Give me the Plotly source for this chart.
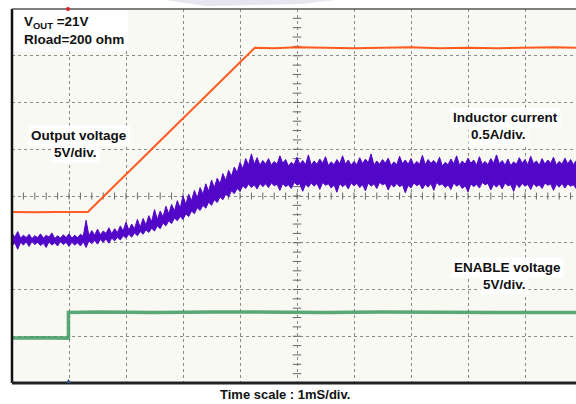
import plotly.graph_objects as go

# ---------------- data (time in ms, 1 ms/div; levels in screen divisions 0..8) ----------------
SAMPLE_MS = 0.05  # envelope sample interval

# inductor current noise envelope, upper edge (divisions), one row per ms
il_upper = [
    3.20, 3.12, 3.24, 3.10, 3.16, 3.11, 3.18, 3.09, 3.15, 3.11, 3.19, 3.10, 3.16, 3.12, 3.21, 3.09, 3.15, 3.10, 3.17, 3.11,
    3.19, 3.10, 3.16, 3.11, 3.18, 3.14, 3.48, 3.15, 3.26, 3.16, 3.29, 3.17, 3.25, 3.20, 3.32, 3.19, 3.30, 3.22, 3.36, 3.25,
    3.44, 3.27, 3.40, 3.30, 3.50, 3.33, 3.52, 3.38, 3.58, 3.45, 3.71, 3.50, 3.68, 3.55, 3.78, 3.62, 3.82, 3.68, 3.90, 3.74,
    4.00, 3.82, 4.04, 3.90, 4.12, 3.96, 4.18, 4.04, 4.26, 4.10, 4.34, 4.18, 4.38, 4.26, 4.48, 4.33, 4.55, 4.42, 4.62, 4.50,
    4.72, 4.58, 4.80, 4.66, 4.90, 4.68, 4.82, 4.66, 4.76, 4.68, 4.80, 4.66, 4.74, 4.68, 4.86, 4.70, 4.78, 4.64, 4.72, 4.67,
    4.83, 4.68, 4.76, 4.67, 4.88, 4.66, 4.75, 4.68, 4.79, 4.70, 4.84, 4.65, 4.73, 4.67, 4.78, 4.69, 4.86, 4.68, 4.77, 4.66,
    4.74, 4.67, 4.82, 4.69, 4.79, 4.71, 4.90, 4.66, 4.75, 4.68, 4.78, 4.70, 4.81, 4.65, 4.73, 4.67, 4.85, 4.69, 4.77, 4.68,
    4.80, 4.66, 4.74, 4.68, 4.87, 4.67, 4.78, 4.70, 4.76, 4.68, 4.83, 4.64, 4.72, 4.67, 4.79, 4.69, 4.86, 4.66, 4.75, 4.68,
    4.81, 4.70, 4.77, 4.66, 4.84, 4.68, 4.74, 4.67, 4.80, 4.70, 4.88, 4.69, 4.76, 4.66, 4.79, 4.65, 4.73, 4.68, 4.82, 4.70,
    4.78, 4.67, 4.85, 4.69, 4.75, 4.66, 4.80, 4.68, 4.77, 4.70, 4.83, 4.66, 4.74, 4.68, 4.81, 4.69, 4.78, 4.67, 4.76,
]
# lower edge
il_lower = [
    2.93, 3.00, 2.86, 3.01, 2.95, 3.02, 2.92, 3.03, 2.96, 3.01, 2.94, 2.99, 2.90, 3.02, 2.95, 3.00, 2.93, 3.03, 2.96, 3.01,
    2.92, 3.01, 2.95, 3.00, 2.93, 3.02, 2.90, 3.04, 2.98, 3.05, 2.97, 3.07, 3.01, 3.08, 2.99, 3.10, 3.04, 3.12, 3.06, 3.15,
    3.10, 3.18, 3.12, 3.21, 3.15, 3.24, 3.18, 3.28, 3.22, 3.31, 3.25, 3.36, 3.30, 3.42, 3.36, 3.47, 3.41, 3.53, 3.47, 3.56,
    3.50, 3.62, 3.56, 3.68, 3.62, 3.75, 3.69, 3.80, 3.74, 3.87, 3.80, 3.92, 3.86, 3.98, 3.92, 4.04, 3.98, 4.11, 4.05, 4.16,
    4.10, 4.22, 4.16, 4.26, 4.18, 4.24, 4.15, 4.27, 4.20, 4.26, 4.18, 4.28, 4.22, 4.25, 4.12, 4.27, 4.20, 4.24, 4.16, 4.29,
    4.24, 4.26, 4.10, 4.25, 4.19, 4.28, 4.21, 4.27, 4.14, 4.29, 4.23, 4.26, 4.17, 4.24, 4.08, 4.27, 4.20, 4.25, 4.15, 4.28,
    4.22, 4.27, 4.18, 4.24, 4.11, 4.28, 4.21, 4.26, 4.16, 4.29, 4.24, 4.27, 4.13, 4.25, 4.19, 4.27, 4.20, 4.24, 4.07, 4.23,
    4.17, 4.28, 4.22, 4.26, 4.15, 4.25, 4.19, 4.27, 4.12, 4.29, 4.23, 4.26, 4.18, 4.24, 4.14, 4.28, 4.21, 4.25, 4.16, 4.22,
    4.09, 4.26, 4.20, 4.25, 4.17, 4.29, 4.24, 4.27, 4.13, 4.25, 4.19, 4.26, 4.15, 4.28, 4.22, 4.24, 4.10, 4.26, 4.18, 4.27,
    4.21, 4.25, 4.14, 4.27, 4.20, 4.24, 4.16, 4.28, 4.23, 4.26, 4.12, 4.25, 4.19, 4.27, 4.17, 4.26, 4.21, 4.24, 4.15,
]

# output voltage trace
vout_t = [0.0, 0.4, 0.8, 1.2, 1.33, 4.26, 4.6, 5.0, 5.5, 6.0, 6.5, 7.0, 7.5, 8.0, 8.5, 9.0, 9.5, 9.9]
vout_div = [3.66, 3.65, 3.66, 3.66, 3.66, 7.17, 7.16, 7.18, 7.17, 7.16, 7.17, 7.18, 7.16, 7.17, 7.16, 7.17, 7.18, 7.17]

# enable voltage trace
en_t = [0.0, 0.5, 0.99, 0.99, 1.5, 2.5, 3.5, 4.5, 5.5, 6.5, 7.5, 8.5, 9.9]
en_div = [0.96, 0.97, 0.96, 1.51, 1.52, 1.51, 1.52, 1.51, 1.51, 1.52, 1.51, 1.51, 1.51]

# sample clock of the envelope
time_ms = [round(i * SAMPLE_MS, 2) for i in range(len(il_upper))]

# ---------------- layout geometry ----------------
W, H = 576, 404
L_PX, R_PX, T_PX, B_PX = 12, 576, 9, 383
X_DIV_PX = 57.0
X_MAX = (R_PX - L_PX) / X_DIV_PX
N_YDIV = 8

def px_x(px):
    return (px - L_PX) / (R_PX - L_PX)

def px_y(py):
    return (B_PX - py) / (B_PX - T_PX)

FONT = "Liberation Sans, Arial, sans-serif"
BLUE = "#5206c8"
ORANGE = "#ff5a1f"
GREEN = "#3f9a62"

fig = go.Figure()

# centre-cross minor ticks
cx_ticks = [k * 0.2 for k in range(1, int(X_MAX / 0.2) + 1)]
cy_ticks = [k * 0.2 for k in range(1, N_YDIV * 5)]
fig.add_trace(go.Scatter(x=cx_ticks, y=[4] * len(cx_ticks), mode="markers",
                         marker=dict(symbol="line-ns", size=5, line=dict(width=1, color="#666")),
                         hoverinfo="skip", showlegend=False))
fig.add_trace(go.Scatter(x=[5] * len(cy_ticks), y=cy_ticks, mode="markers",
                         marker=dict(symbol="line-ew", size=6, line=dict(width=1, color="#666")),
                         hoverinfo="skip", showlegend=False))

# inductor current band
fig.add_trace(go.Scatter(x=time_ms, y=il_lower, mode="lines",
                         line=dict(color=BLUE, width=1), showlegend=False))
fig.add_trace(go.Scatter(x=time_ms, y=il_upper, mode="lines", fill="tonexty",
                         fillcolor=BLUE, line=dict(color=BLUE, width=1), showlegend=False))

# output voltage
fig.add_trace(go.Scatter(x=vout_t, y=vout_div, mode="lines",
                         line=dict(color=ORANGE, width=2), showlegend=False))

# enable voltage
fig.add_trace(go.Scatter(x=en_t, y=en_div, mode="lines", opacity=0.85,
                         line=dict(color=GREEN, width=3.5), showlegend=False))

shapes = [
    # white box behind Vout text
    dict(type="rect", xref="paper", yref="paper", x0=px_x(12), x1=px_x(128),
         y0=px_y(51), y1=px_y(9), fillcolor="white", line=dict(width=0), layer="above"),
    # borders
    dict(type="line", xref="paper", yref="paper", x0=0, x1=0, y0=0, y1=1,
         line=dict(color="#111", width=2.5), layer="above"),
    dict(type="line", xref="paper", yref="paper", x0=0, x1=1.0, y0=1, y1=1,
         line=dict(color="#555", width=1.5), layer="above"),
    dict(type="line", xref="paper", yref="paper", x0=0, x1=1.0, y0=0, y1=0,
         line=dict(color="#222", width=3), layer="above"),
    # faint glare wedge at top
    dict(type="path", xref="paper", yref="paper",
         path=f"M {px_x(165)} {px_y(0)} L {px_x(335)} {px_y(0)} L {px_x(300)} {px_y(4)} L {px_x(205)} {px_y(6)} Z",
         fillcolor="rgba(215,212,228,0.6)", line=dict(width=0), layer="above"),
    # trigger markers
    dict(type="circle", xref="paper", yref="paper", x0=px_x(66), x1=px_x(70),
         y0=px_y(11), y1=px_y(7), fillcolor="#e0202a", line=dict(width=0), layer="above"),
    dict(type="path", xref="paper", yref="paper",
         path=f"M {px_x(66)} {px_y(383)} L {px_x(71)} {px_y(383)} L {px_x(68.5)} {px_y(379)} Z",
         fillcolor="#2a4a8a", line=dict(width=0), layer="above"),
]

def ann(text, px, py, xanchor="center", bg=None, size=13.5):
    d = dict(text=f"<b>{text}</b>", xref="paper", yref="paper", x=px_x(px), y=px_y(py),
             xanchor=xanchor, yanchor="middle", showarrow=False,
             font=dict(family=FONT, size=size, color="#111"))
    if bg:
        d.update(bgcolor=bg, borderpad=2)
    return d

annotations = [
    ann("V<sub>OUT</sub> =21V", 22, 22, xanchor="left"),
    ann("Rload=200 ohm", 22, 39, xanchor="left"),
    ann("Output voltage", 79, 135, bg="white"),
    ann("5V/div.", 75, 152, bg="white"),
    ann("Inductor current", 505, 117, bg="white"),
    ann("0.5A/div.", 498, 134, bg="white"),
    ann("ENABLE voltage", 507, 267, bg="white"),
    ann("5V/div.", 504, 284, bg="white"),
    ann("Time scale : 1mS/div.", 285, 395, size=13),
]

fig.update_layout(
    width=W, height=H,
    margin=dict(l=L_PX, r=W - R_PX, t=T_PX, b=H - B_PX, pad=0),
    paper_bgcolor="white", plot_bgcolor="#f9f9f4",
    shapes=shapes, annotations=annotations, showlegend=False,
    xaxis=dict(range=[0, X_MAX], dtick=1, tick0=0, showgrid=True, gridcolor="#8a8a8a",
               griddash="dot", gridwidth=1, zeroline=False, showticklabels=False,
               ticks="", showline=False, fixedrange=True),
    yaxis=dict(range=[0, N_YDIV], dtick=1, tick0=0, showgrid=True, gridcolor="#8a8a8a",
               griddash="dot", gridwidth=1, zeroline=False, showticklabels=False,
               ticks="", showline=False, fixedrange=True),
)

fig.write_html("out.html", config={"displayModeBar": False},
               post_script="document.body.style.margin='0px';document.body.style.overflow='hidden';")
